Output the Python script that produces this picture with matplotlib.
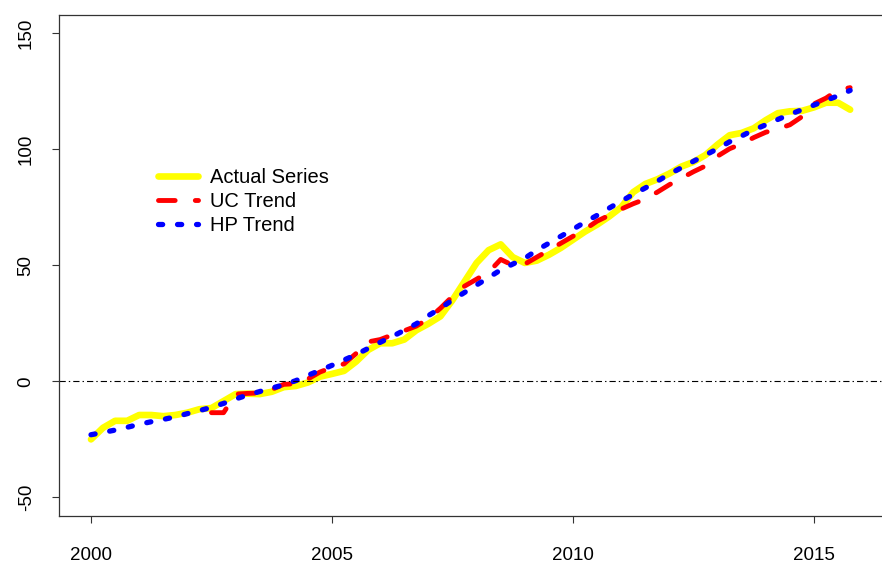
import numpy as np
import matplotlib
matplotlib.use('Agg')
import matplotlib.pyplot as plt

plt.rcParams['font.family'] = ['Liberation Sans', 'DejaVu Sans']
plt.rcParams['lines.scale_dashes'] = False
plt.rcParams['axes.unicode_minus'] = False

# quarterly data 2000Q1 - 2015Q4
years = np.arange(2000, 2016, 0.25)

actual = [-25, -20, -17, -17,
          -14.5, -14.5, -15, -14.5,
          -13.5, -12, -11.5, -8.5,
          -5.5, -5.3, -5.5, -4.5,
          -2.5, -2, -0.5, 2,
          3.2, 4.5, 8.5, 13.5,
          16.4, 16.4, 18, 22,
          24.8, 28, 35, 43,
          51, 56.5, 59, 53.5,
          51, 52, 54.5, 57.5,
          61, 64.5, 67.5, 71,
          75, 81.5, 85, 87,
          89.5, 92.5, 94.5, 97.5,
          102, 106, 107, 109,
          112.5, 115.5, 116.3, 116.5,
          118, 120, 120, 117]

uc_trend = [np.nan] * 10 + [
    -13.5, -13.5,
    -5.5, -5.2, -5, -3.5,
    -1.3, -1, 1, 4,
    6, 7.5, 12, 17,
    18, 20, 21.8, 23.8,
    27, 31.5, 36.6, 41,
    44, 47, 52.5, 50,
    50.5, 53.5, 56.5, 59.5,
    62.5, 65.5, 69, 71.5,
    74.2, 76.5, 78.5, 81.5,
    84.7, 87.5, 90.3, 92.8,
    97, 100.2, 102.3, 105,
    107.3, 108.7, 110.5, 114,
    119.5, 122, 125.5, 126.5]

hp_trend = [-23, -22, -21, -19.8,
            -18.5, -17.4, -16.4, -15.3,
            -13.9, -12.6, -11.2, -9.5,
            -7.6, -5.9, -4.4, -2.9,
            -1.5, 0.3, 2.6, 4.7,
            6.9, 9.2, 11.5, 14.2,
            16.8, 19.3, 22, 24.8,
            28.3, 31.5, 35, 38.3,
            41.5, 44.7, 48, 50.5,
            53, 56.5, 59.5, 62.5,
            65.5, 68.6, 71.5, 74.6,
            77.6, 80.5, 83.3, 86.2,
            89.3, 92, 94.8, 97.5,
            100.2, 103.2, 105.7, 108.3,
            110.5, 112.8, 115, 117,
            119, 121, 123, 125.3]

W, H = 882, 565
fig = plt.figure(figsize=(W / 100, H / 100), dpi=100)
# plot box in pixels: left 59, right beyond the image, top 14.5, bottom 516
ax = fig.add_axes([59 / W, (H - 516) / H, (892 - 59) / W, (516 - 14.5) / H])

ax.plot(years, actual, color='yellow', lw=4.8, solid_capstyle='round',
        label='Actual Series')
ax.plot(years, uc_trend, color='red', lw=3.5, dash_capstyle='round',
        dashes=(12, 14.5), label='UC Trend')
ax.plot(years, hp_trend, color='blue', lw=3.8, dash_capstyle='round',
        dashes=(3, 10.7), label='HP Trend')
ax.axhline(0, color='black', lw=0.8, dashes=(4.5, 2.2, 1, 2.2))

ax.set_xlim(2000 - 32 / 48.2, 2000 + (892 - 91) / 48.2)
ax.set_ylim(-58, 158)
ax.set_xticks([2000, 2005, 2010, 2015])
ax.set_yticks([-50, 0, 50, 100, 150])

for s in ax.spines.values():
    s.set_color('#333333')
    s.set_linewidth(0.9)
ax.tick_params(direction='out', length=5, width=0.8, color='#333333',
               labelsize=13.5)
ax.tick_params(axis='x', pad=17)
ax.tick_params(axis='y', pad=12.5)
for t in ax.get_yticklabels():
    t.set_rotation(90)
    t.set_va('center')

ax.legend(loc='upper left', bbox_to_anchor=(150 / W, 1 - 160 / H),
          bbox_transform=fig.transFigure, frameon=False, fontsize=14.5,
          handlelength=2.0, handletextpad=0.6, labelspacing=0.25,
          borderaxespad=0)

fig.savefig('out.png', dpi=100)
